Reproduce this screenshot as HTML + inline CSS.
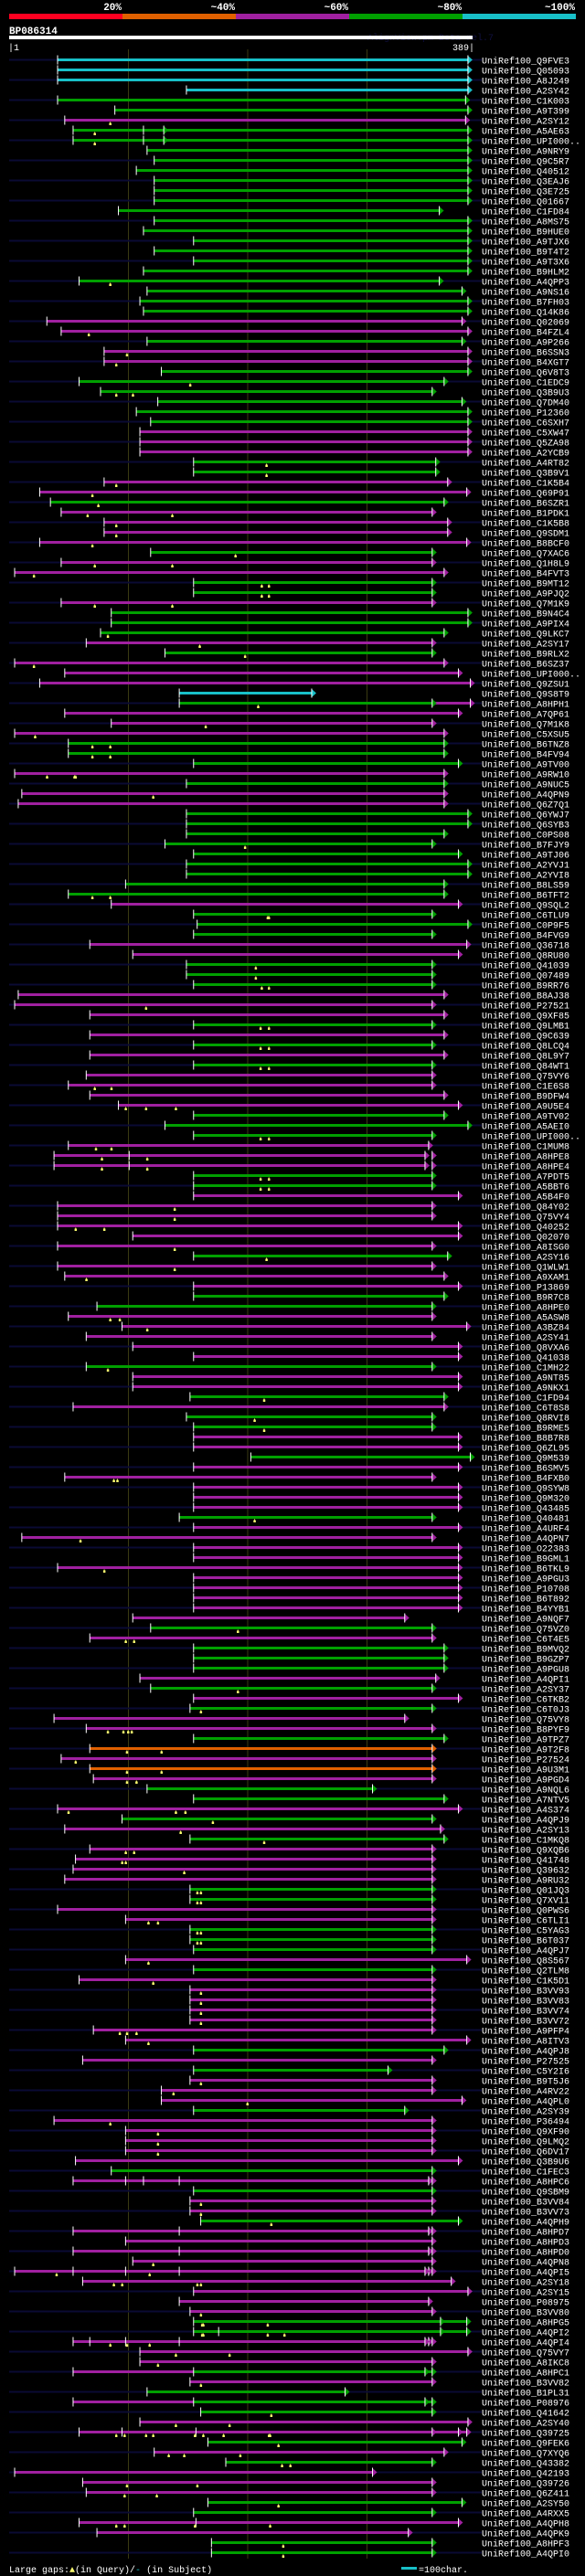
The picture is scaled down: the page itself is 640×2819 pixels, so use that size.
<!DOCTYPE html>
<html><head><meta charset="utf-8">
<style>
html,body{margin:0;padding:0;background:#000;}
svg{display:block;}
text{font-family:"Liberation Mono","DejaVu Sans Mono",monospace;}
</style></head>
<body>
<svg id="chart" width="640" height="2819" viewBox="0 0 640 2819" xmlns="http://www.w3.org/2000/svg">
<rect x="0" y="0" width="640" height="2819" fill="#000"/>
<g>
<text x="133" y="11" fill="#fff" font-size="11" font-weight="bold" text-anchor="end">20%</text>
<text x="257" y="11" fill="#fff" font-size="11" font-weight="bold" text-anchor="end">~40%</text>
<text x="381" y="11" fill="#fff" font-size="11" font-weight="bold" text-anchor="end">~60%</text>
<text x="505" y="11" fill="#fff" font-size="11" font-weight="bold" text-anchor="end">~80%</text>
<text x="629" y="11" fill="#fff" font-size="11" font-weight="bold" text-anchor="end">~100%</text>
<rect x="10" y="15" width="124" height="6" fill="#ff0020"/>
<rect x="134" y="15" width="124" height="6" fill="#e06000"/>
<rect x="258" y="15" width="124" height="6" fill="#a020a0"/>
<rect x="382" y="15" width="124" height="6" fill="#00a000"/>
<rect x="506" y="15" width="124" height="6" fill="#18c0c8"/>
</g>
<text x="10" y="37" fill="#fff" font-size="11" font-weight="bold">BP086314</text>
<text x="402" y="44" fill="#101040" font-size="10">AlignView.pm Beta rel.7</text>
<rect x="10" y="39" width="507" height="4" fill="#fff"/>
<text x="9" y="55" fill="#fff" font-size="10">|1</text>
<text x="519" y="55" fill="#fff" font-size="10" text-anchor="end">389|</text>
<g id="grid"></g>
<g id="rows"></g>
<g>
<text x="10" y="2815" fill="#fff" font-size="10">Large gaps:<tspan fill="#ffff70">▲</tspan>(in Query)/<tspan fill="#18c0c8">-</tspan> (in Subject)</text>
<rect x="439" y="2809" width="17" height="3" fill="#18c0c8"/>
<text x="458" y="2815" fill="#fff" font-size="10">=100char.</text>
</g>
</svg>
<script>
const gridTicks = [100, 200, 300];
const labels = ["Q9FVE3","Q05093","A8J249","A2SY42","C1K003","A9T399","A2SY12","A5AE63","UPI000..","A9NRY9",
"Q9C5R7","Q40512","Q3EAJ6","Q3E725","Q01667","C1FD84","A8MS75","B9HUE0","A9TJX6","B9T4T2",
"A9T3X6","B9HLM2","A4QPP3","A9NS16","B7FH03","Q14K86","Q02069","B4FZL4","A9P266","B6SSN3",
"B4XGT7","Q6V8T3","C1EDC9","Q3B9U3","Q7DM40","P12360","C6SXH7","C5XW47","Q5ZA98","A2YCB9",
"A4RT82","Q3B9V1","C1K5B4","Q69P91","B6SZR1","B1PDK1","C1K5B8","Q9SDM1","B8BCF0","Q7XAC6",
"Q1H8L9","B4FVT3","B9MT12","A9PJQ2","Q7M1K9","B9N4C4","A9PIX4","Q9LKC7","A2SY17","B9RLX2",
"B6SZ37","UPI000..","Q9ZSU1","Q9S8T9","A8HPH1","A7QP61","Q7M1K8","C5XSU5","B6TNZ8","B4FV94",
"A9TV00","A9RW10","A9NUC5","A4QPN9","Q6Z7Q1","Q6YWJ7","Q6SYB3","C0PS08","B7FJY9","A9TJ06",
"A2YVJ1","A2YVI8","B8LS59","B6TFT2","Q9SQL2","C6TLU9","C0P9F5","B4FVG9","Q36718","Q8RU80",
"Q41039","Q07489","B9RR76","B8AJ38","P27521","Q9XF85","Q9LMB1","Q9C639","Q8LCQ4","Q8L9Y7",
"Q84WT1","Q75VY6","C1E6S8","B9DFW4","A9U5E4","A9TV02","A5AEI0","UPI000..","C1MUM8","A8HPE8",
"A8HPE4","A7PDT5","A5BBT6","A5B4F0","Q84Y02","Q75VY4","Q40252","Q02070","A8ISG0","A2SY16",
"Q1WLW1","A9XAM1","P13869","B9R7C8","A8HPE0","A5ASW8","A3BZ84","A2SY41","Q8VXA6","Q41038",
"C1MH22","A9NT85","A9NKX1","C1FD94","C6T8S8","Q8RVI8","B9RME5","B8B7R8","Q6ZL95","Q9M539",
"B6SMV5","B4FXB0","Q9SYW8","Q9M320","Q43485","Q40481","A4URF4","A4QPN7","O22383","B9GML1",
"B6TKL9","A9PGU3","P10708","B6T892","B4YYB1","A9NQF7","Q75VZ0","C6T4E5","B9MVQ2","B9GZP7",
"A9PGU8","A4QPI1","A2SY37","C6TKB2","C6T0J3","Q75VY8","B8PYF9","A9TPZ7","A9T2F8","P27524",
"A9U3M1","A9PGD4","A9NQL6","A7NTV5","A4S374","A4QPJ9","A2SY13","C1MKQ8","Q9XQB6","Q41748",
"Q39632","A9RU32","Q01JQ3","Q7XV11","Q0PWS6","C6TLI1","C5YAG3","B6T037","A4QPJ7","Q8S567",
"Q2TLM8","C1K5D1","B3VV93","B3VV83","B3VV74","B3VV72","A9PFP4","A8ITV3","A4QPJ8","P27525",
"C5Y2I6","B9T5J6","A4RV22","A4QPL0","A2SY39","P36494","Q9XF90","Q9LMQ2","Q6DV17","Q3B9U6",
"C1FEC3","A8HPC6","Q9SBM9","B3VV84","B3VV73","A4QPH9","A8HPD7","A8HPD3","A8HPD0","A4QPN8",
"A4QPI5","A2SY18","A2SY15","P08975","B3VV80","A8HPG5","A4QPI2","A4QPI4","Q75VY7","A8IKC8",
"A8HPC1","B3VV82","B1PL31","P08976","Q41642","A2SY40","Q39725","Q9FEK6","Q7XYQ6","Q43382",
"Q42193","Q39726","Q6Z411","A2SY50","A4RXX5","A4QPH8","A4QPK9","A8HPF3","A4QPI0"];
const identityClass = ("CCCCGGMGGG"+"GGGGGGGGGG"+"GGGGGGMMGM"+"MGGGGGGMMM"+"GGMMGMMMMG"+"MMGGMGGGMG"+
"MMMCGMMMGG"+"GMGMMGGGGG"+"GGGGMGGGMM"+"GGGMMMGMGM"+"GMMMMGGGMM"+"MGGMMMMMMG"+"MMMGGMMMMM"+
"GMMGMGGMMG"+"MMMMMGMMMM"+"MMMMMMGMGG"+"GMGMGMMGOM"+"OMGGMGMGMM"+"MMGGMMGGGM"+"GMMMMMMMGM"+
"GMMMGMMMMM"+"GMGMMGMMMM"+"MMMMMGGMMM"+"GMGGGMMGMG"+"MMMGGMMGG").split("");
const starts = [41,41,41,149,41,89,47,54,54,116,
122,107,122,122,122,92,122,113,155,122,
155,113,59,116,110,113,32,44,116,80,
80,128,59,77,125,107,119,110,110,110,
155,155,80,26,35,44,80,80,26,119,
44,5,155,155,44,86,86,77,65,131,
5,47,26,143,143,47,86,5,50,50,
155,5,149,11,8,149,149,149,131,155,
149,149,98,50,86,155,158,155,68,104,
149,149,155,8,5,68,155,68,155,68,
155,65,50,68,92,155,131,155,50,38,
38,155,155,155,41,41,41,104,41,155,
41,47,155,155,74,50,95,65,104,155,
65,104,104,152,54,149,155,155,155,203,
155,47,155,155,155,143,155,11,155,155,
41,155,155,155,155,104,119,68,155,155,
155,110,119,155,152,38,65,155,68,44,
68,71,116,155,41,95,47,152,68,56,
54,47,152,152,41,98,152,152,155,98,
155,59,152,152,152,152,71,98,155,62,
155,152,128,128,155,38,98,98,98,56,
86,54,155,152,152,161,54,98,54,104,
5,62,155,143,152,155,155,54,110,110,
155,152,116,155,161,110,59,167,122,182,
5,62,65,167,155,59,74,170,170];
const ends = [385,385,385,385,383,385,383,385,385,385,
385,385,385,385,385,361,385,385,385,385,
385,385,361,380,385,385,380,385,380,385,
385,385,365,355,380,385,385,385,385,385,
358,358,368,384,365,355,368,368,384,355,
355,365,355,355,355,385,385,365,355,355,
365,377,387,254,355,377,355,365,365,365,
377,365,365,365,365,385,385,365,355,377,
385,385,365,365,377,355,385,355,384,377,
355,355,355,365,355,365,355,365,355,365,
355,355,355,365,377,365,385,355,352,349,
349,355,355,377,355,355,377,377,355,368,
355,365,377,365,355,355,384,355,377,377,
355,377,377,365,365,355,355,377,377,387,
377,355,377,377,377,355,377,355,377,377,
377,377,377,377,377,332,355,355,365,365,
365,358,355,377,355,332,355,365,355,355,
355,355,305,365,377,355,362,365,355,355,
355,355,355,355,355,355,355,355,355,384,
355,355,355,355,355,355,355,384,365,355,
318,355,355,380,332,355,355,355,355,377,
355,352,355,355,355,377,352,355,352,355,
352,371,385,352,355,362,362,352,385,355,
355,355,282,355,355,385,355,380,365,355,
305,355,355,380,355,377,335,355,355];
// query gap markers (residue positions), keyed by row number (1-based)
const gapRows = [7,8,9,23,28,30,31,33,34,41,42,43,44,45,46,47,48,49,50,51,52,53,54,55,58,59,60,61,65,67,68,69,70,72,74,79,84,86,91,92,93,95,97,99,101,103,105,108,109,110,111,112,113,115,116,117,119,120,121,122,126,127,131,134,136,137,142,146,148,151,157,158,163,165,167,169,170,171,172,175,176,177,178,179,180,181,183,184,186,187,188,190,192,193,194,195,196,197,198,202,203,204,206,207,208,209,214,215,216,220,221,222,225,226,227,228,229,230,232,235,236,237,238,239,240,242,243,244,246,248,249];
const gapPositions = [[85],[72],[72],[85],[67],[99],[90],[152],[90,104],[216],[216],[90],[70],[75],[66,137],[90],[90],[70],[190],[72,137],[21],[212,218],[212,218],[72,137],[83],[160],[198],[21],[209],[165],[22],[70,85],[70,85],[32,55,56],[121],[198],[70,85],[217,218],[207],[207],[212,218],[115],[211,218],[211,218],[211,218],[72,86],[98,115,140],[211,218],[73,86],[78,116],[78,116],[211,218],[211,218],[139],[139],[56,80],[139],[216],[139],[65],[85,93],[116],[83],[214],[206],[214],[88,91],[206],[60],[80],[192],[98,105],[192],[161],[83,96,100,103],[99,128],[56],[99,128],[99,107],[50,140,148],[171],[144],[214],[98,105],[95,98],[147],[158,161],[158,161],[117,125],[158,161],[158,161],[117],[121],[161],[161],[161],[161],[93,99,107],[117],[161],[138],[200],[85],[125],[125],[125],[161],[161],[220],[121],[40,118],[88,95,158,161],[161],[162,163,217],[162,163,217,231],[85,99,118],[140,185],[125],[161],[220],[140,185],[90,97,115,121,156,163,180,218,219],[226],[134,147,194],[229,236],[99,158],[97,124],[226],[90,97,156,219],[230],[230]];
const tickRows = [8,9,110,111,212,217,219,221,227,228,237,246];
const tickPositions = [[113],[113],[101],[101],[98,113,143],[143],[143],[54,98,143],[176],[68,98,143],[95,157],[157]];
const arrowRows = [8,9,110,111,212,217,219,221,228,231,234,237];
const arrowPositions = [[130],[130],[355],[355],[355],[355],[355],[349,355],[349,355],[349],[349],[377]];
const extRows = [65,226,227,231,234,237];
const extFrom = [355,362,362,54,54,355];
const extTo = [387,384,384,155,155,384];
const extClass = ["M","G","G","M","M","M"];

const palette = {C:"#18c0c8",G:"#00a000",M:"#a020a0",O:"#e06000",R:"#ff0020"};
const NS = "http://www.w3.org/2000/svg";
const X0 = 10.8, PX = 1.305, Y0 = 65, PITCH = 11;
function xs(p){ return X0 + (p - 1) * PX; }
function ys(i){ return Y0 + i * PITCH; }
function mk(tag, attrs, parent){
  const el = document.createElementNS(NS, tag);
  for (const k in attrs) el.setAttribute(k, attrs[k]);
  parent.appendChild(el);
  return el;
}
const grid = document.getElementById("grid");
gridTicks.forEach(function(t){
  const l = mk("line", {x1:xs(t)+0.5, x2:xs(t)+0.5, y1:54, y2:2800, stroke:"#3a3a12", "stroke-width":1}, grid);
  
  
});
const rowsG = document.getElementById("rows");
function arrow(g, xe, y, col){
  const t = mk("polygon", {points:(xe)+","+(y-4.5)+" "+(xe+5)+","+y+" "+(xe)+","+(y+4.5), fill:col}, g);
  
  
  const w = mk("rect", {x:xe-0.5, y:y-5, width:1, height:10, fill:"#fff"}, g);
  
  
}
function tick(g, x, y){
  const w = mk("rect", {x:x-0.5, y:y-5, width:1, height:10, fill:"#fff"}, g);
  
  
}
labels.forEach(function(lab, i){
  const y = ys(i) + 0.5;
  const g = mk("g", {}, rowsG);
  
  
  if (i % 2 === 0) {
    const s = mk("rect", {x:10, y:y-1, width:517, height:2, fill:"#0a0a34"}, g);
    
    
  }
  const col = palette[identityClass[i]] || palette.M;
  const n = i + 1;
  const ei = extRows.indexOf(n);
  if (ei >= 0) {
    const ec = palette[extClass[ei]];
    const b2 = mk("rect", {x:xs(extFrom[ei]), y:y-1.5, width:xs(extTo[ei])-xs(extFrom[ei]), height:3, fill:ec}, g);
    
    
    if (extTo[ei] > ends[i]) arrow(g, xs(extTo[ei]), y, ec);
    else tick(g, xs(extFrom[ei]), y);
  }
  const b = mk("rect", {x:xs(starts[i]), y:y-1.5, width:xs(ends[i])-xs(starts[i]), height:3, fill:col}, g);
  
  
  tick(g, xs(starts[i]), y);
  arrow(g, xs(ends[i]), y, col);
  const ti = tickRows.indexOf(n);
  if (ti >= 0) tickPositions[ti].forEach(function(p){ tick(g, xs(p), y); });
  const ai = arrowRows.indexOf(n);
  if (ai >= 0) arrowPositions[ai].forEach(function(p){ arrow(g, xs(p), y, col); });
  const gi = gapRows.indexOf(n);
  if (gi >= 0) gapPositions[gi].forEach(function(p){
    const m = mk("rect", {x:xs(p)-1, y:y+3, width:2.5, height:2.5, fill:"#ffff70"}, g);
    
    
    const m2 = mk("rect", {x:xs(p)-0.3, y:y+2, width:1, height:1, fill:"#ffff70"}, g);
    
    
  });
  const t = mk("text", {x:527, y:y+4, fill:"#fff", "font-size":10}, g);
  t.textContent = "UniRef100_" + lab;
  
  
});
</script>
</body></html>
